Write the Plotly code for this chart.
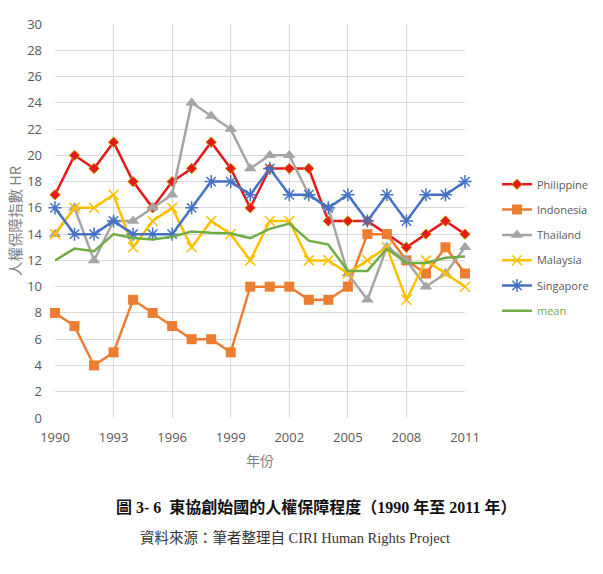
import plotly.graph_objects as go

years = list(range(1990, 2012))
philippine = [17, 20, 19, 21, 18, 16, 18, 19, 21, 19, 16, 19, 19, 19, 15, 15, 15, 14, 13, 14, 15, 14]
indonesia = [8, 7, 4, 5, 9, 8, 7, 6, 6, 5, 10, 10, 10, 9, 9, 10, 14, 14, 12, 11, 13, 11]
thailand = [14, 16, 12, 15, 15, 16, 17, 24, 23, 22, 19, 20, 20, 17, 16, 11, 9, 13, 12, 10, 11, 13]
malaysia = [14, 16, 16, 17, 13, 15, 16, 13, 15, 14, 12, 15, 15, 12, 12, 11, 12, 13, 9, 12, 11, 10]
singapore = [16, 14, 14, 15, 14, 14, 14, 16, 18, 18, 17, 19, 17, 17, 16, 17, 15, 17, 15, 17, 17, 18]
mean = [12.0, 12.9, 12.7, 14.0, 13.7, 13.6, 13.8, 14.2, 14.1, 14.05, 13.7, 14.4, 14.8, 13.5, 13.2, 11.2, 11.2, 12.9, 11.8, 11.8, 12.2, 12.3]

x_ticks = [1990, 1993, 1996, 1999, 2002, 2005, 2008, 2011]
y_ticks = list(range(0, 31, 2))

fig = go.Figure()
series = [
    ("Philippine", philippine, "#e8191c", dict(symbol="diamond", size=8, color="#e8191c", line=dict(color="#b8a000", width=1))),
    ("Indonesia", indonesia, "#ed7d31", dict(symbol="square", size=10, color="#ed7d31")),
    ("Thailand", thailand, "#a5a5a5", dict(symbol="triangle-up", size=11, color="#a5a5a5")),
    ("Malaysia", malaysia, "#ffc000", dict(symbol="x-thin-open", size=10, color="#ffc000", line=dict(color="#ffc000", width=1.5))),
    ("Singapore", singapore, "#4472c4", dict(symbol="asterisk-open", size=11, color="#4472c4", line=dict(color="#4472c4", width=1.5))),
]
for i, (name, vals, col, mk) in enumerate(series):
    fig.add_trace(go.Scatter(x=years, y=vals, name=name, mode="lines+markers",
                             line=dict(color=col, width=2.5), marker=mk,
                             legendgroup=f"g{i}", cliponaxis=False))
fig.add_trace(go.Scatter(x=years, y=mean, name='<span style="color:#70ad47">mean</span>', mode="lines",
                         line=dict(color="#70ad47", width=2.5), legendgroup="g5", cliponaxis=False))

font_cjk = "Noto Sans CJK TC, Noto Sans, sans-serif"
fig.update_layout(
    width=603, height=574,
    margin=dict(l=55, r=138, t=24, b=156, autoexpand=False),
    paper_bgcolor="white", plot_bgcolor="white",
    font=dict(family="Open Sans, Noto Sans CJK TC, sans-serif", color="#595959", size=13),
    showlegend=True,
    legend=dict(x=1.078, y=0.63, xanchor="left", yanchor="top", tracegroupgap=6.3,
                font=dict(size=11, color="#595959"), bgcolor="rgba(0,0,0,0)", itemwidth=30),
    xaxis=dict(range=[1990, 2011], tickmode="array", tickvals=x_ticks,
               ticktext=[str(v) for v in x_ticks], showgrid=True, gridcolor="#d9d9d9",
               gridwidth=1, zeroline=False, showline=False, ticks="",
               ticklabelstandoff=10,
               tickfont=dict(size=13, color="#595959"),
               title=dict(text="年份", font=dict(family=font_cjk, size=14, color="#7f7f7f"), standoff=11)),
    yaxis=dict(range=[0, 30], tickmode="array", tickvals=y_ticks, showgrid=True,
               gridcolor="#d9d9d9", gridwidth=1, zeroline=False, showline=False, ticks="",
               ticklabelstandoff=12,
               tickfont=dict(size=13, color="#595959"),
               title=dict(text="人權保障指數 HR", font=dict(family=font_cjk, size=14.5, color="#7f7f7f"), standoff=2)),
)

fig.add_annotation(xref="paper", yref="paper", x=(316 - 55) / 410, y=(418 - 507) / 394,
                   text="<b>圖 3- 6  東協創始國的人權保障程度（1990 年至 2011 年）</b>",
                   showarrow=False, xanchor="center", yanchor="middle",
                   font=dict(family="Liberation Serif, Noto Sans CJK TC, serif", size=16, color="#111111"))
fig.add_annotation(xref="paper", yref="paper", x=(295 - 55) / 410, y=(418 - 538) / 394,
                   text="資料來源：筆者整理自 CIRI Human Rights Project",
                   showarrow=False, xanchor="center", yanchor="middle",
                   font=dict(family="Liberation Serif, Noto Sans CJK TC, serif", size=14.5, color="#333333"))

fig.write_html("out.html")
